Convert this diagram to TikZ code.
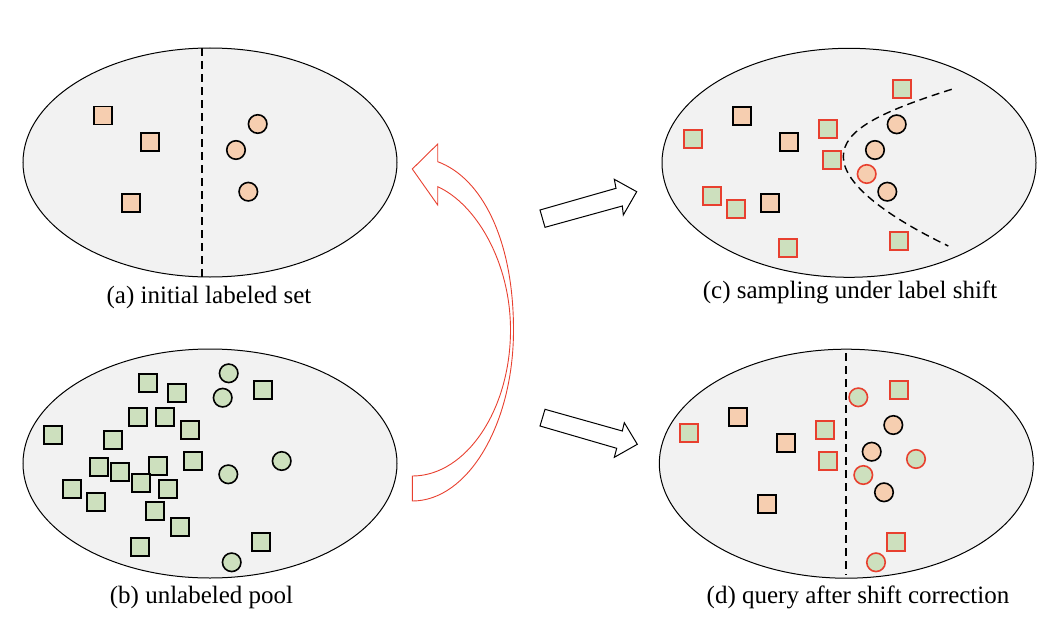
\documentclass[tikz,border=0pt]{standalone}
\usepackage{fontspec}
\setmainfont{Liberation Serif}
\usetikzlibrary{shapes.geometric}

\definecolor{setgray}{HTML}{F2F2F2}
\definecolor{orfill}{HTML}{F6CEB0}
\definecolor{grfill}{HTML}{CDE0BE}
\definecolor{redline}{HTML}{E8402F}

\tikzset{
  dataset/.style={ellipse, draw, fill=setgray, line width=1pt, minimum width=374pt, minimum height=229pt, inner sep=0pt},
  osq/.style={rectangle, draw, fill=orfill, line width=1.7pt, minimum size=18pt, inner sep=0pt},
  gsq/.style={rectangle, draw, fill=grfill, line width=1.7pt, minimum size=18pt, inner sep=0pt},
  gsqr/.style={gsq, draw=redline},
  ocirc/.style={circle, draw, fill=orfill, line width=1.6pt, minimum size=18.5pt, inner sep=0pt},
  gcirc/.style={circle, draw, fill=grfill, line width=1.6pt, minimum size=18.5pt, inner sep=0pt},
  ocircr/.style={ocirc, draw=redline},
  gcircr/.style={gcirc, draw=redline},
  split/.style={line width=1.4pt, dash pattern=on 8pt off 5pt},
  caption/.style={font=\fontsize{25}{30}\selectfont},
  blockarrow/.style={draw, line width=1pt, line join=miter},
  redarrow/.style={draw=redline, line width=0.9pt, line join=miter}
}

\begin{document}
\begin{tikzpicture}[x=1pt,y=-1pt]
  \useasboundingbox (0,0) rectangle (1046,634);

  % (a) initial labeled set
  \node[dataset] (A) at (210,162.5) {};
  \coordinate (a top) at (202,48);
  \coordinate (a bot) at (202,277);
  \draw[split] (a top) -- (a bot);
  \node[osq] (a1) at (103,115.5) {};
  \node[osq] (a2) at (150.3,142) {};
  \node[osq] (a3) at (131,203) {};
  \node[ocirc] (a4) at (257.7,124) {};
  \node[ocirc] (a5) at (236,150) {};
  \node[ocirc] (a6) at (248.3,191.7) {};
  \node[caption] (capa) at (209,297) {(a) initial labeled set};

  % (b) unlabeled pool
  \node[dataset] (B) at (210,463.5) {};
  \node[gsq] (b1) at (147.7,383.3) {};
  \node[gsq] (b2) at (177,392.7) {};
  \node[gsq] (b3) at (138.3,416.7) {};
  \node[gsq] (b4) at (164.7,417) {};
  \node[gsq] (b5) at (189.7,430) {};
  \node[gsq] (b6) at (53.3,435) {};
  \node[gsq] (b7) at (112.7,440.3) {};
  \node[gsq] (b8) at (98.7,467) {};
  \node[gsq] (b9) at (120.3,472.3) {};
  \node[gsq] (b10) at (158.3,466) {};
  \node[gsq] (b11) at (192.7,461) {};
  \node[gsq] (b12) at (140.7,483.3) {};
  \node[gsq] (b13) at (167.7,489) {};
  \node[gsq] (b14) at (72,489) {};
  \node[gsq] (b15) at (96.3,502) {};
  \node[gsq] (b16) at (154.7,510.7) {};
  \node[gsq] (b17) at (179.7,527.3) {};
  \node[gsq] (b18) at (140,546.7) {};
  \node[gsq] (b19) at (263.3,390) {};
  \node[gsq] (b20) at (261,542) {};
  \node[gcirc] (b21) at (228.7,373.3) {};
  \node[gcirc] (b22) at (222.7,397.7) {};
  \node[gcirc] (b23) at (281.7,461) {};
  \node[gcirc] (b24) at (228.3,474.3) {};
  \node[gcirc] (b25) at (231.7,562.3) {};
  \node[caption] (capb) at (201.5,597) {(b) unlabeled pool};

  % (c) sampling under label shift
  \node[dataset] (C) at (849,162.8) {};
  \coordinate (c top) at (951.7,89.3);
  \coordinate (c mid) at (843.3,156.7);
  \coordinate (c bot) at (948.3,246);
  \draw[split] (c top) .. controls (880,112) and (843.3,130) .. (c mid)
               .. controls (843.3,185) and (890,218) .. (c bot);
  \node[osq] (c1) at (741.7,116) {};
  \node[osq] (c2) at (789,142.3) {};
  \node[osq] (c3) at (770,203.3) {};
  \node[gsqr] (c4) at (692.7,138.7) {};
  \node[gsqr] (c5) at (828.3,129.3) {};
  \node[gsqr] (c6) at (831.7,160) {};
  \node[gsqr] (c7) at (711.7,196) {};
  \node[gsqr] (c8) at (736,209.3) {};
  \node[gsqr] (c9) at (788.3,248.3) {};
  \node[gsqr] (c10) at (901.7,89) {};
  \node[gsqr] (c11) at (899.3,241) {};
  \node[ocirc] (c12) at (896.7,124.3) {};
  \node[ocirc] (c13) at (875,150) {};
  \node[ocirc] (c14) at (887.3,191.7) {};
  \node[ocircr] (c15) at (866.7,174) {};
  \node[caption] (capc) at (850,292.5) {(c) sampling under label shift};

  % (d) query after shift correction
  \node[dataset] (D) at (846.3,463.7) {};
  \coordinate (d top) at (846,353.3);
  \coordinate (d bot) at (846,575);
  \draw[split] (d top) -- (d bot);
  \node[osq] (d1) at (738.3,416.7) {};
  \node[osq] (d2) at (785.7,443.3) {};
  \node[osq] (d3) at (766.7,504) {};
  \node[gsqr] (d4) at (689.3,432.7) {};
  \node[gsqr] (d5) at (825,430) {};
  \node[gsqr] (d6) at (827.7,460.7) {};
  \node[gsqr] (d7) at (899,390) {};
  \node[gsqr] (d8) at (896,541.7) {};
  \node[ocirc] (d9) at (893.3,425) {};
  \node[ocirc] (d10) at (871.7,451.7) {};
  \node[ocirc] (d11) at (884,492.3) {};
  \node[gcircr] (d12) at (858.3,397.3) {};
  \node[gcircr] (d13) at (916,459) {};
  \node[gcircr] (d14) at (863.3,475) {};
  \node[gcircr] (d15) at (876,562.3) {};
  \node[caption] (capd) at (858,597) {(d) query after shift correction};

  % block arrows towards (c) and (d)
  \coordinate (u t1) at (540,210);
  \coordinate (u j1) at (616,188.3);
  \coordinate (u w1) at (614.3,179.3);
  \coordinate (u tip) at (636.7,191.7);
  \coordinate (u w2) at (623.3,215);
  \coordinate (u j2) at (622.3,206);
  \coordinate (u t2) at (545,227.3);
  \draw[blockarrow] (u t1) -- (u j1) -- (u w1) -- (u tip) -- (u w2) -- (u j2) -- (u t2) -- cycle;

  \coordinate (l t1) at (545,409.3);
  \coordinate (l j1) at (622.3,431);
  \coordinate (l w1) at (624.3,422.7);
  \coordinate (l tip) at (637.3,444.3);
  \coordinate (l w2) at (614.3,457.3);
  \coordinate (l j2) at (616.7,448.3);
  \coordinate (l t2) at (540,426);
  \draw[blockarrow] (l t1) -- (l j1) -- (l w1) -- (l tip) -- (l w2) -- (l j2) -- (l t2) -- cycle;

  % curved red arrow from (b) back to (a)
  \coordinate (r tail1) at (412.3,501);
  \coordinate (r tail2) at (412.3,476);
  \coordinate (r mid1) at (513.5,330);
  \coordinate (r mid2) at (510.5,330);
  \coordinate (r sh1) at (437.7,161.7);
  \coordinate (r sh2) at (437.7,186.7);
  \coordinate (r w1) at (437.7,144);
  \coordinate (r w2) at (437.7,205);
  \coordinate (r tip) at (412.3,169);
  \draw[redarrow] (r tail1) .. controls (468,501) and (513.5,424) .. (r mid1)
                  .. controls (513.5,240) and (482,178) .. (r sh1)
                  -- (r w1) -- (r tip) -- (r w2) -- (r sh2)
                  .. controls (476,204) and (510.5,262) .. (r mid2)
                  .. controls (510.5,410) and (466,476) .. (r tail2) -- cycle;
\end{tikzpicture}
\end{document}
